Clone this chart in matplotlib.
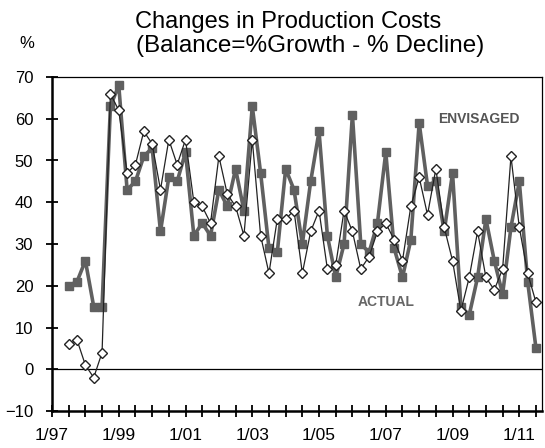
import numpy as np
import matplotlib
matplotlib.use("Agg")
import matplotlib.pyplot as plt

plt.rcParams['font.family'] = ['Liberation Sans', 'DejaVu Sans']

# quarterly survey balances, 7/97 .. 7/11
envisaged = [20, 21, 26, 15, 15, 63, 68, 43, 45, 51,
             53, 33, 46, 45, 52, 32, 35, 32, 43, 39,
             48, 38, 63, 47, 29, 28, 48, 43, 30, 45,
             57, 32, 22, 30, 61, 30, 28, 35, 52, 29,
             22, 31, 59, 44, 45, 33, 47, 15, 13, 22,
             36, 26, 18, 34, 45, 21, 5]
actual = [6, 7, 1, -2, 4, 66, 62, 47, 49, 57,
          54, 43, 55, 49, 55, 40, 39, 35, 51, 42,
          39, 32, 55, 32, 23, 36, 36, 38, 23, 33,
          38, 24, 25, 38, 33, 24, 27, 33, 35, 31,
          26, 39, 46, 37, 48, 34, 26, 14, 22, 33,
          22, 19, 24, 51, 34, 23, 16]
start_year = 1997.5
tick_years = np.arange(1997, 2012, 0.5)
label_years = [1997, 1999, 2001, 2003, 2005, 2007, 2009, 2011]

x = start_year + 0.25 * np.arange(len(envisaged))

fig = plt.figure(figsize=(5.45, 4.48), dpi=100)
ax = fig.add_axes([52 / 545, 1 - 411 / 448, 490 / 545, 334 / 448])

ax.axhline(0, color='black', lw=0.9, zorder=1)
ax.plot(x, envisaged, color='#606060', lw=2.6, marker='s', ms=5.5,
        mfc='#606060', mec='#606060', zorder=2)
ax.plot(x, actual, color='#222222', lw=0.9, marker='D', ms=5.2,
        mfc='white', mec='#222222', mew=1.0, zorder=3)

ax.set_xlim(1997, 2011.68)
ax.set_ylim(-10, 70)
ax.set_yticks(range(-10, 71, 10))
ax.set_xticks(tick_years)
ax.set_xticklabels(['1/%02d' % (int(t) % 100) if t in label_years else ''
                    for t in tick_years])

for s in ['left', 'bottom']:
    ax.spines[s].set_linewidth(1.8)
for s in ['top', 'right']:
    ax.spines[s].set_linewidth(0.9)
ax.tick_params(axis='both', direction='inout', length=9, width=1.3,
               colors='black')
ax.tick_params(axis='x', pad=8, labelsize=12.5)
ax.tick_params(axis='y', pad=9, labelsize=12)

ax.text(2009.8, 60, 'ENVISAGED', color='#555555', fontsize=10,
        fontweight='bold', ha='center', va='center')
ax.text(2007.0, 16, 'ACTUAL', color='#666666', fontsize=10,
        fontweight='bold', ha='center', va='center')

fig.text(288 / 545, 1 - 22 / 448, 'Changes in Production Costs',
         fontsize=17, ha='center', va='center')
fig.text(310 / 545, 1 - 46 / 448, '(Balance=%Growth - % Decline)',
         fontsize=17.5, ha='center', va='center')
fig.text(27 / 545, 1 - 43 / 448, '%', fontsize=12, ha='center', va='center')

fig.savefig('out.png', dpi=100)
